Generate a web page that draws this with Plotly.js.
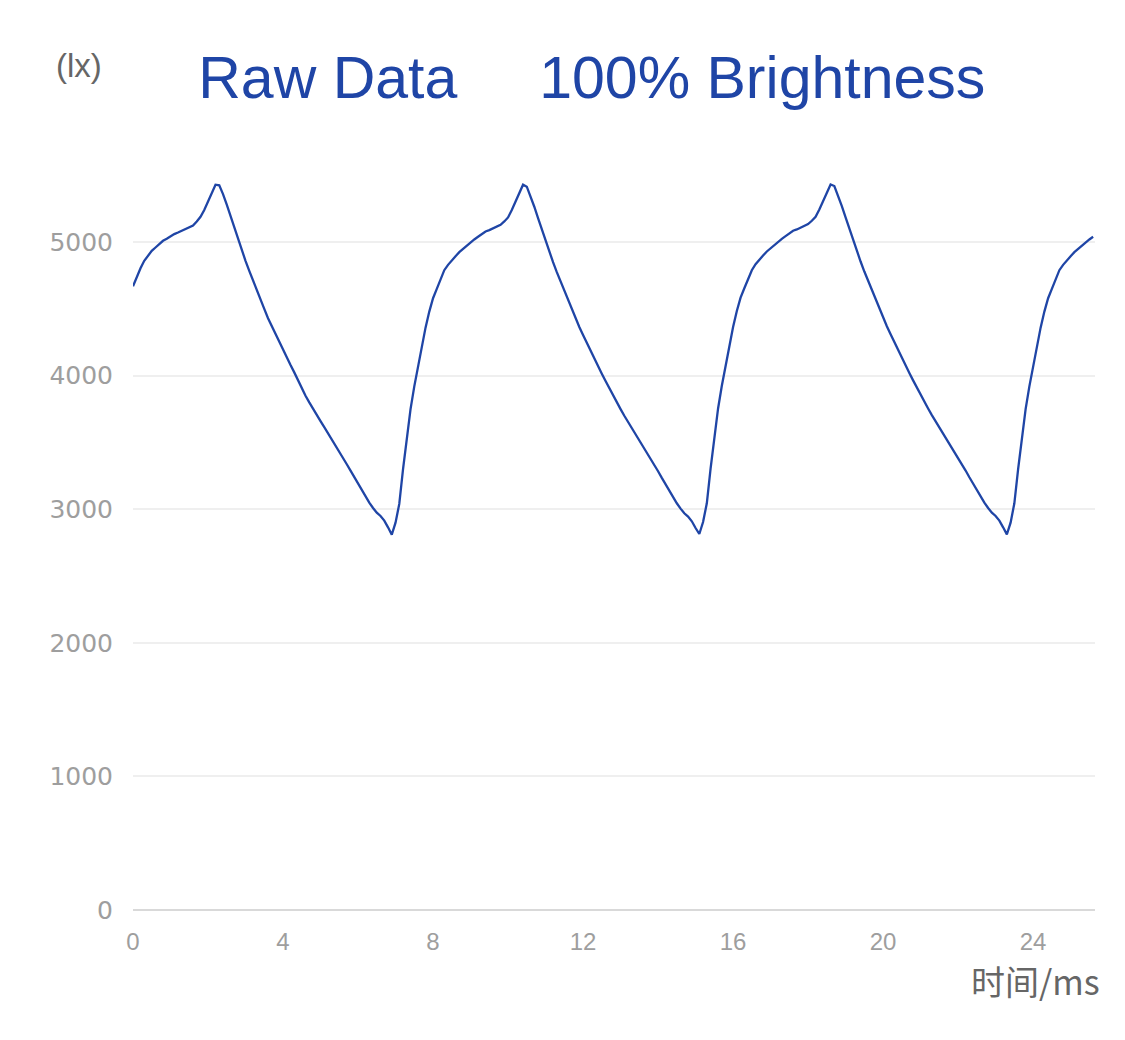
<!DOCTYPE html>
<html>
<head>
<meta charset="utf-8">
<script src="https://cdn.plot.ly/plotly-3.0.1.min.js"></script>
<style>
  html, body { margin: 0; padding: 0; background: #fff; }
  #graph { width: 1125px; height: 1040px; }
</style>
</head>
<body>
<div id="graph"></div>
<script>
// DATA
const SAMPLE_MS = 0.1; // one reading every 0.1 ms
const chartTitle = "Raw Data\u00A0\u00A0\u00A0\u00A0\u00A0100% Brightness";
const yUnit = "(lx)";
const xUnit = "时间/ms";
const xTicks = [0, 4, 8, 12, 16, 20, 24];
const yTicks = [0, 1000, 2000, 3000, 4000, 5000];

// illuminance readings (lx), 0.0 ms .. 25.6 ms
const lux = [
  4670, 4740, 4805, 4860, 4900, 4935, 4960, 4985, 5010, 5025,
  5045, 5060, 5072, 5085, 5098, 5110, 5125, 5155, 5190, 5240,
  5305, 5370, 5430, 5425, 5360, 5280, 5195, 5110, 5020, 4940,
  4860, 4785, 4710, 4640, 4570, 4500, 4430, 4370, 4310, 4250,
  4195, 4137, 4080, 4025, 3965, 3905, 3850, 3800, 3750, 3705,
  3660, 3615, 3570, 3525, 3480, 3430, 3385, 3337, 3290, 3240,
  3190, 3140, 3090, 3050, 3010, 2975, 2950, 2915, 2865, 2810,
  2900, 3040, 3300, 3550, 3750, 3920, 4075, 4220, 4360, 4480,
  4580, 4650, 4720, 4790, 4830, 4865, 4895, 4925, 4950, 4975,
  5000, 5020, 5040, 5060, 5080, 5090, 5105, 5115, 5130, 5155,
  5185, 5240, 5300, 5365, 5430, 5415, 5345, 5265, 5180, 5095,
  5010, 4925, 4850, 4775, 4705, 4630, 4560, 4495, 4425, 4365,
  4305, 4245, 4185, 4130, 4075, 4015, 3960, 3905, 3850, 3800,
  3750, 3700, 3655, 3610, 3565, 3520, 3475, 3425, 3380, 3330,
  3285, 3235, 3185, 3135, 3085, 3045, 3005, 2970, 2945, 2910,
  2860, 2815, 2905, 3045, 3305, 3555, 3755, 3925, 4080, 4225,
  4365, 4485, 4585, 4655, 4725, 4790, 4835, 4870, 4900, 4930,
  4955, 4980, 5005, 5025, 5045, 5065, 5085, 5095, 5110, 5120,
  5135, 5160, 5190, 5245, 5305, 5370, 5432, 5420, 5350, 5270,
  5185, 5100, 5015, 4930, 4855, 4780, 4710, 4635, 4565, 4500,
  4430, 4370, 4310, 4250, 4190, 4135, 4080, 4020, 3965, 3910,
  3855, 3805, 3755, 3705, 3660, 3615, 3570, 3525, 3480, 3430,
  3385, 3335, 3290, 3240, 3190, 3140, 3090, 3050, 3010, 2975,
  2950, 2915, 2865, 2812, 2900, 3045, 3300, 3550, 3750, 3920,
  4075, 4220, 4360, 4480, 4580, 4650, 4720, 4790, 4830, 4865,
  4895, 4925, 4950, 4975, 5000, 5020, 5040
];

// time axis for each reading
const timeMs = lux.map((_, i) => +(i * SAMPLE_MS).toFixed(1));

const BLUE = "#1f45a6";

const trace = {
  x: timeMs,
  y: lux,
  type: "scatter",
  mode: "lines",
  line: { color: BLUE, width: 2.3 },
  hoverinfo: "skip",
};

const layout = {
  width: 1125,
  height: 1040,
  margin: { l: 133, r: 30, t: 162, b: 130 },
  paper_bgcolor: "#ffffff",
  plot_bgcolor: "#ffffff",
  showlegend: false,
  title: {
    text: chartTitle,
    font: { family: "Liberation Sans, Arial, sans-serif", size: 59, color: BLUE },
    x: 0.526,
    xanchor: "center",
    xref: "container",
    y: 1 - 77 / 1040,
    yanchor: "middle",
    yref: "container",
  },
  xaxis: {
    range: [0, 25.65],
    tickvals: xTicks,
    ticktext: xTicks.map(String),
    showgrid: false,
    zeroline: false,
    showline: false,
    ticks: "",
    ticklabelstandoff: 15,
    tickfont: { family: "Liberation Sans, Arial, sans-serif", size: 24, color: "#9e9e9e" },
  },
  yaxis: {
    range: [0, 5600],
    tickvals: yTicks,
    ticktext: yTicks.map(String),
    showgrid: true,
    gridcolor: "#efefef",
    gridwidth: 2,
    zeroline: true,
    zerolinecolor: "#d9d9d9",
    zerolinewidth: 2,
    showline: false,
    ticks: "",
    ticklabelstandoff: 19,
    tickfont: { family: "DejaVu Sans, sans-serif", size: 25, color: "#9e9e9e" },
  },
  annotations: [
    {
      text: yUnit,
      xref: "paper", yref: "paper",
      x: 0, y: 1,
      xshift: -54, yshift: 97,
      xanchor: "center", yanchor: "middle",
      showarrow: false,
      font: { family: "Liberation Sans, Arial, sans-serif", size: 33, color: "#666666" },
    },
    {
      text: xUnit,
      xref: "paper", yref: "paper",
      x: 1, y: 0,
      xshift: 7, yshift: -70,
      xanchor: "right", yanchor: "middle",
      showarrow: false,
      font: { family: "Noto Sans CJK SC, sans-serif", size: 34, color: "#666666" },
    },
  ],
};

Plotly.newPlot("graph", [trace], layout, { displayModeBar: false, staticPlot: true });
</script>
</body>
</html>
